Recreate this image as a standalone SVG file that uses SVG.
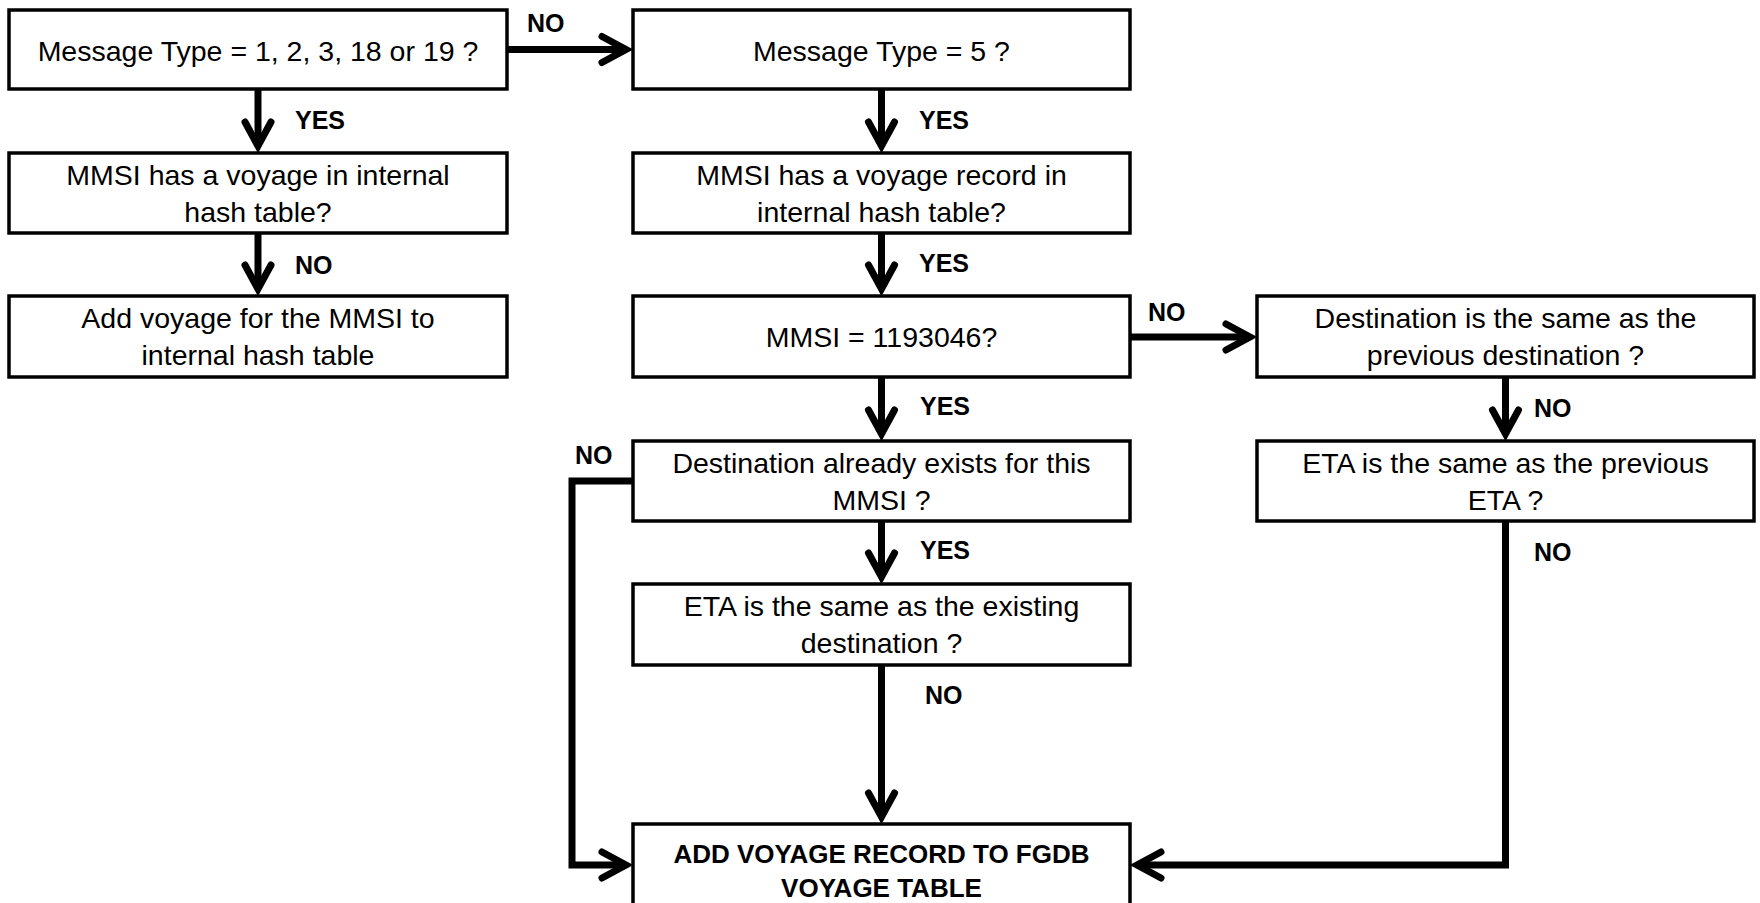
<svg xmlns="http://www.w3.org/2000/svg" width="1760" height="903" viewBox="0 0 1760 903">
<defs>
<style>
.box{fill:#fff;stroke:#000;stroke-width:3.5}
.t{font-family:"Liberation Sans",Arial,sans-serif;font-size:28.5px;fill:#000;text-anchor:middle}
.b{font-family:"Liberation Sans",Arial,sans-serif;font-size:26px;font-weight:bold;fill:#000;text-anchor:middle}
.lbl{font-family:"Liberation Sans",Arial,sans-serif;font-size:25px;font-weight:bold;fill:#000}
.c{fill:none;stroke:#000;stroke-width:7;stroke-linejoin:miter;marker-end:url(#ah)}
</style>
<marker id="ah" markerUnits="userSpaceOnUse" orient="auto" refX="0" refY="0" markerWidth="60" markerHeight="60" viewBox="-40 -30 60 60" style="overflow:visible">
<path d="M -24,-13 L 0,0 L -24,13" fill="none" stroke="#000" stroke-width="7" stroke-linecap="round" stroke-linejoin="miter"/>
</marker>
</defs>
<rect width="1760" height="903" fill="#fff"/>

<g id="connectors">
<path class="c" d="M507,49.5 H626"/>
<path class="c" d="M258,89 V146"/>
<path class="c" d="M258,233 V289"/>
<path class="c" d="M881.5,89 V146"/>
<path class="c" d="M881.5,233 V289"/>
<path class="c" d="M881.5,377 V434"/>
<path class="c" d="M881.5,521 V577"/>
<path class="c" d="M881.5,665 V817"/>
<path class="c" d="M1130,337 H1250"/>
<path class="c" d="M1505.5,377 V434"/>
<path class="c" d="M1505.5,521 V865 H1137"/>
<path class="c" d="M633,481 H572 V865 H626"/>
</g>

<g id="labels">
<text class="lbl" x="527" y="32">NO</text>
<text class="lbl" x="295" y="129">YES</text>
<text class="lbl" x="295" y="274">NO</text>
<text class="lbl" x="919" y="129">YES</text>
<text class="lbl" x="919" y="272">YES</text>
<text class="lbl" x="1148" y="321">NO</text>
<text class="lbl" x="920" y="415">YES</text>
<text class="lbl" x="1534" y="417">NO</text>
<text class="lbl" x="575" y="464">NO</text>
<text class="lbl" x="920" y="559">YES</text>
<text class="lbl" x="925" y="704">NO</text>
<text class="lbl" x="1534" y="561">NO</text>
</g>

<g id="n1"><rect class="box" x="9" y="10" width="498" height="79"/><text class="t" x="258" y="61">Message Type = 1, 2, 3, 18 or 19 ?</text></g>
<g id="n2"><rect class="box" x="9" y="153" width="498" height="80"/><text class="t" x="258" y="185">MMSI  has a voyage in internal</text><text class="t" x="258" y="222">hash table?</text></g>
<g id="n3"><rect class="box" x="9" y="296" width="498" height="81"/><text class="t" x="258" y="328">Add voyage for the MMSI to</text><text class="t" x="258" y="365">internal hash table</text></g>

<g id="n4"><rect class="box" x="633" y="10" width="497" height="79"/><text class="t" x="881.5" y="61">Message Type = 5 ?</text></g>
<g id="n5"><rect class="box" x="633" y="153" width="497" height="80"/><text class="t" x="881.5" y="185">MMSI  has a voyage record in</text><text class="t" x="881.5" y="222">internal hash table?</text></g>
<g id="n6"><rect class="box" x="633" y="296" width="497" height="81"/><text class="t" x="881.5" y="347">MMSI = 1193046?</text></g>
<g id="n7"><rect class="box" x="633" y="441" width="497" height="80"/><text class="t" x="881.5" y="473">Destination already exists for this</text><text class="t" x="881.5" y="510">MMSI ?</text></g>
<g id="n8"><rect class="box" x="633" y="584" width="497" height="81"/><text class="t" x="881.5" y="616">ETA is the same as the existing</text><text class="t" x="881.5" y="653">destination ?</text></g>
<g id="n9"><rect class="box" x="633" y="824" width="497" height="82"/><text class="b" x="881.5" y="863">ADD VOYAGE RECORD TO FGDB</text><text class="b" x="881.5" y="897">VOYAGE TABLE</text></g>

<g id="n10"><rect class="box" x="1257" y="296" width="497" height="81"/><text class="t" x="1505.5" y="328">Destination is the same as the</text><text class="t" x="1505.5" y="365">previous destination ?</text></g>
<g id="n11"><rect class="box" x="1257" y="441" width="497" height="80"/><text class="t" x="1505.5" y="473">ETA is the same as the previous</text><text class="t" x="1505.5" y="510">ETA ?</text></g>
</svg>
